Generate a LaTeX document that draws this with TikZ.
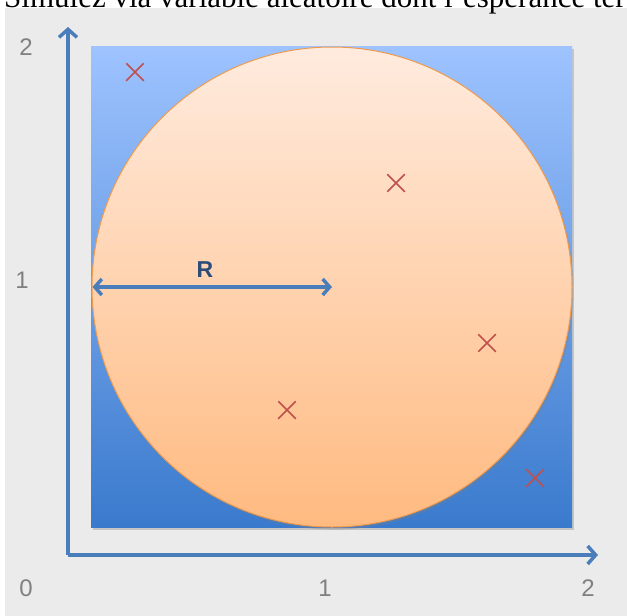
\documentclass[tikz,border=0pt]{standalone}
\usepackage{fontspec}
\setmainfont{Liberation Serif}
\setsansfont{Liberation Sans}
\usetikzlibrary{arrows.meta,shadows,shapes.misc}
\definecolor{bg}{HTML}{EBEBEB}
\definecolor{axiscol}{HTML}{4A7EBB}
\definecolor{sqtop}{HTML}{9EC3FF}
\definecolor{sqbot}{HTML}{3A7ACD}
\definecolor{ctop}{HTML}{FFEBDE}
\definecolor{cbot}{HTML}{FFBA80}
\definecolor{cedge}{HTML}{EE9B4E}
\definecolor{markcol}{HTML}{C0504D}
\definecolor{lblcol}{HTML}{808080}
\definecolor{rcol}{HTML}{2A4D7A}
\tikzset{
  axisline/.style={draw=axiscol, line width=3.5pt, -{Straight Barb[length=8pt,width=18pt,line width=3.5pt]}},
  radiusarrow/.style={draw=axiscol, line width=3.5pt, {Straight Barb[length=7pt,width=16pt,line width=3.5pt]}-{Straight Barb[length=7pt,width=16pt,line width=3.5pt]}},
  ticklbl/.style={text=lblcol, font=\sffamily\fontsize{24}{28}\selectfont, inner sep=0pt},
  sample/.style={cross out, draw=markcol, line width=1.5pt, minimum size=16pt, inner sep=0pt},
  softshadow/.style={drop shadow={opacity=0.35, shadow xshift=1.5pt, shadow yshift=-2.5pt}}
}
\begin{document}
\begin{tikzpicture}[x=1pt,y=-1pt]
\useasboundingbox (0,0) rectangle (627,616);
\fill[bg] (5,8) rectangle (627,616);
\node[anchor=base west, font=\fontsize{31}{36}\selectfont, inner sep=0pt] (title) at (4,7) {Simulez via variable aléatoire dont l’espérance ter};
% square
\node[minimum size=481pt, inner sep=0pt, top color=sqtop, bottom color=sqbot, softshadow] (sq) at (331.5,286.5) {};
% circle
\node[circle, minimum size=480pt, inner sep=0pt, top color=ctop, bottom color=cbot, draw=cedge, line width=1pt, softshadow] (c) at (332,287) {};
% radius
\draw[radiusarrow] ([xshift=1pt]c.west) -- (c.center);
\node[font=\sffamily\bfseries\fontsize{23}{27}\selectfont, text=rcol] (R) at (205,270) {R};
% axes
\coordinate (o) at (68,555);
\coordinate (xend) at (598,555);
\coordinate (yend) at (68,27);
\draw[axisline] (o) -- (xend);
\draw[axisline] (o) -- (yend);
% tick labels
\node[ticklbl] (x0) at (26,588) {0};
\node[ticklbl] (x1) at (325,588) {1};
\node[ticklbl] (x2) at (588,588) {2};
\node[ticklbl] (y1) at (22,280) {1};
\node[ticklbl] (y2) at (26,47) {2};
% samples
\node[sample] (p1) at (135,72) {};
\node[sample] (p2) at (396,183) {};
\node[sample] (p3) at (487,343) {};
\node[sample] (p4) at (287,410) {};
\node[sample] (p5) at (535,478) {};
\end{tikzpicture}
\end{document}
